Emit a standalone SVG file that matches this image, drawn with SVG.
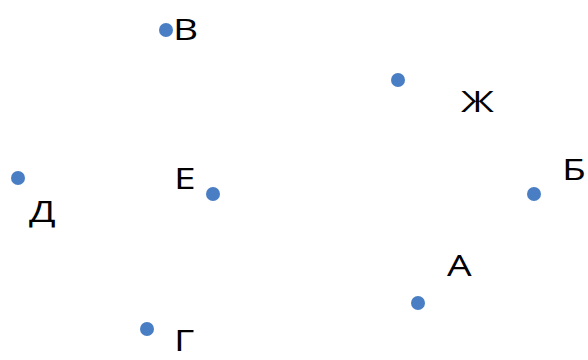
<svg xmlns="http://www.w3.org/2000/svg" width="588" height="360" viewBox="0 0 588 360">
<style>
.dot{fill:#4A7EC4}
.lbl{font-family:"Open Sans","Liberation Sans",sans-serif;font-size:30px;fill:#000}
</style>
<rect width="588" height="360" fill="#fff"/>
<g id="node-V"><circle class="dot" cx="166" cy="30" r="7"/><text class="lbl" transform="translate(173,40) scale(1.3,1)">В</text></g>
<g id="node-Zh"><circle class="dot" cx="398" cy="80" r="7"/><text class="lbl" transform="translate(461,112) scale(1.3,1)">Ж</text></g>
<g id="node-D"><circle class="dot" cx="18" cy="178" r="7"/><text class="lbl" transform="translate(29,222) scale(1.3,1)">Д</text></g>
<g id="node-E"><circle class="dot" cx="213" cy="194" r="7"/><text class="lbl" transform="translate(174,189) scale(1.3,1)">Е</text></g>
<g id="node-B"><circle class="dot" cx="534" cy="194" r="7"/><text class="lbl" transform="translate(562,180) scale(1.3,1)">Б</text></g>
<g id="node-A"><circle class="dot" cx="418" cy="303" r="7"/><text class="lbl" transform="translate(447,276) scale(1.3,1)">А</text></g>
<g id="node-G"><circle class="dot" cx="147" cy="329" r="7"/><text class="lbl" transform="translate(174,351) scale(1.3,1)">Г</text></g>
<g id="connectors"></g>
</svg>
